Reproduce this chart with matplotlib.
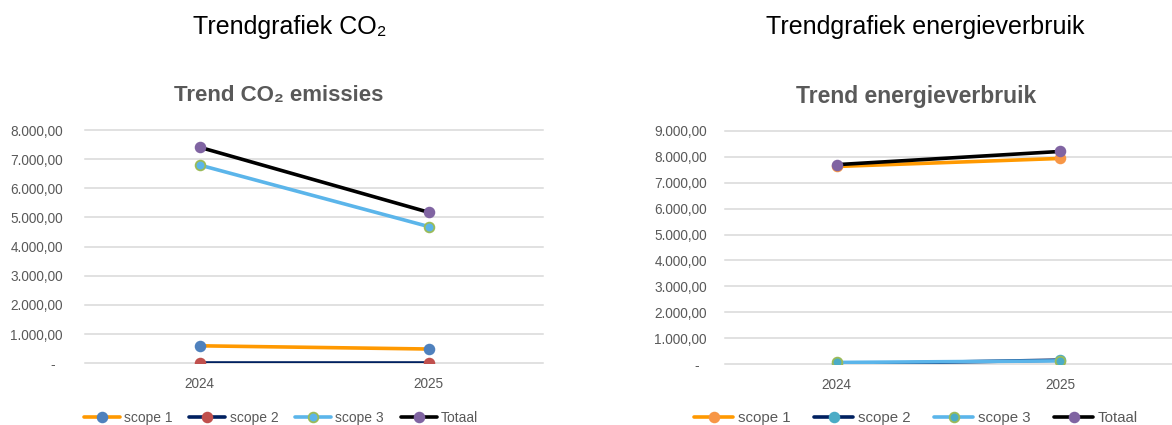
import matplotlib.pyplot as plt
from matplotlib.ticker import FuncFormatter, MultipleLocator

plt.rcParams['font.family'] = ['Liberation Sans', 'DejaVu Sans']

# data
years = ['2024', '2025']
series = ['scope 1', 'scope 2', 'scope 3', 'Totaal']

co2_scope1 = [600, 490]
co2_scope2 = [5, 5]
co2_scope3 = [6800, 4690]
co2_totaal = [7410, 5180]

en_scope1 = [7630, 7940]
en_scope2 = [0, 150]
en_scope3 = [60, 120]
en_totaal = [7700, 8210]

GRAY = '#595959'
line_cols = ['#FF9900', '#002060', '#5BB5EA', '#000000']
co2_marker = [('#4F81BD', '#4F81BD'), ('#C0504D', '#C0504D'),
              ('#5BB5EA', '#9BBB59'), ('#8064A2', '#8064A2')]
en_marker = [('#F79646', '#F79646'), ('#4BACC6', '#4BACC6'),
             ('#4BACC6', '#9BBB59'), ('#8064A2', '#8064A2')]


def nl_fmt(v, pos):
    if abs(v) < 1e-9:
        return '-  '
    s = f"{v:,.2f}"
    return s.replace(',', 'X').replace('.', ',').replace('X', '.')


def draw(ax, data, markers, ymax, ypad):
    x = list(range(len(years)))
    for i, (name, vals) in enumerate(zip(series, data)):
        fc, ec = markers[i]
        ax.plot(x, vals, color=line_cols[i], lw=2.6, marker='o', ms=7,
                mfc=fc, mec=ec, mew=1.3, label=name, zorder=3 + i,
                solid_capstyle='round')
    ax.set_xlim(-0.5, 1.5)
    ax.set_ylim(0, ymax)
    ax.set_xticks(x)
    ax.set_xticklabels(years)
    ax.yaxis.set_major_locator(MultipleLocator(1000))
    ax.yaxis.set_major_formatter(FuncFormatter(nl_fmt))
    ax.grid(axis='y', color='#D9D9D9', lw=1.1, zorder=0)
    ax.set_axisbelow(True)
    for sp in ax.spines.values():
        sp.set_visible(False)
    ax.tick_params(axis='both', length=0, colors=GRAY, labelsize=9.8)
    ax.tick_params(axis='y', pad=ypad)
    ax.tick_params(axis='x', pad=10)
    for gl in ax.get_ygridlines():
        gl.set_clip_on(False)


fig = plt.figure(figsize=(11.72, 4.25), dpi=100)

ax1 = fig.add_axes([85 / 1172, 1 - 363.3 / 425, 458 / 1172, 233.3 / 425])
draw(ax1, [co2_scope1, co2_scope2, co2_scope3, co2_totaal], co2_marker, 8000, 16)

ax2 = fig.add_axes([725 / 1172, 1 - 364 / 425, 447 / 1172, 233 / 425])
draw(ax2, [en_scope1, en_scope2, en_scope3, en_totaal], en_marker, 9000, 13)

# titles
fig.text(290 / 1172, 1 - 27 / 425, 'Trendgrafiek CO\u2082', ha='center', va='center',
         fontsize=18, color='black')
fig.text(925 / 1172, 1 - 27 / 425, 'Trendgrafiek energieverbruik', ha='center',
         va='center', fontsize=18, color='black')
fig.text(279 / 1172, 1 - 95 / 425, 'Trend CO\u2082 emissies', ha='center', va='center',
         fontsize=16, fontweight='bold', color=GRAY)
fig.text(916 / 1172, 1 - 97 / 425, 'Trend energieverbruik', ha='center', va='center',
         fontsize=16.5, fontweight='bold', color=GRAY)

for ax, cx, fs, cs in [(ax1, 281, 10, 1.2), (ax2, 916, 10.8, 1.6)]:
    leg = ax.legend(loc='center', ncol=4, frameon=False,
                    bbox_to_anchor=(cx / 1172, 1 - 418 / 425),
                    bbox_transform=fig.transFigure, fontsize=fs,
                    handlelength=2.6, handletextpad=0.3, columnspacing=cs,
                    numpoints=1)
    for t in leg.get_texts():
        t.set_color(GRAY)

fig.savefig('out.png', dpi=100)
